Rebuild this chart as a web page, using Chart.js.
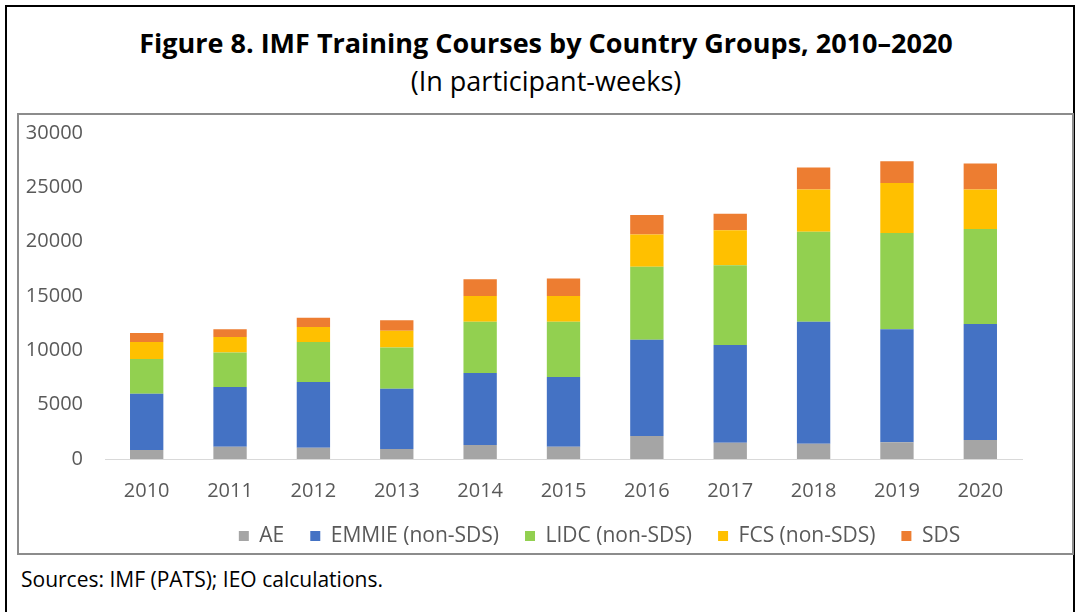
<!DOCTYPE html>
<html>
<head>
<meta charset="utf-8">
<script src="https://cdn.jsdelivr.net/npm/chart.js@4.4.1/dist/chart.umd.min.js"></script>
<style>
  body { margin: 0; background: #fff; font-family: "Open Sans", sans-serif; }
  #page { position: relative; width: 1081px; height: 612px; overflow: hidden; }
  #frame { position: absolute; left: 5px; top: 5px; width: 1070px; height: 640px;
           border: 2px solid #000; box-sizing: border-box; }
  #box { position: absolute; left: 17px; top: 113px; width: 1057px; height: 442px;
         border: 2px solid #8c8c8c; box-sizing: border-box; }
  #title { position: absolute; left: 6px; width: 1080px; top: 26px; text-align: center;
           font-weight: bold; font-size: 27px; color: #000; line-height: 34px; }
  #subtitle { position: absolute; left: 6px; width: 1080px; top: 64.5px; text-align: center;
              font-size: 27px; color: #000; line-height: 32px; }
  #source { position: absolute; left: 21px; top: 565.5px; font-size: 21px; color: #000; line-height: 26px; }
  #chart { position: absolute; left: 19px; top: 115px; }
</style>
</head>
<body>
<div id="page">
  <div id="frame"></div>
  <div id="box"></div>
  <div id="title">Figure 8. IMF Training Courses by Country Groups, 2010–2020</div>
  <div id="subtitle">(In participant-weeks)</div>
  <div id="source">Sources: IMF (PATS); IEO calculations.</div>
  <canvas id="chart" width="1052" height="445"></canvas>
</div>
<script>
// Datos (participant-weeks)
const years = ["2010", "2011", "2012", "2013", "2014", "2015", "2016", "2017", "2018", "2019", "2020"];
const ae    = [830, 1130, 1040, 920, 1290, 1130, 2120, 1500, 1410, 1530, 1750];
const emmie = [5180, 5490, 6040, 5550, 6620, 6410, 8860, 8990, 11220, 10400, 10670];
const lidc  = [3190, 3190, 3680, 3800, 4720, 5090, 6710, 7330, 8280, 8860, 8740];
const fcs   = [1560, 1410, 1380, 1530, 2370, 2370, 2980, 3220, 3900, 4600, 3650];
const sds   = [830, 710, 860, 960, 1530, 1620, 1780, 1530, 2020, 2020, 2390];
const yTicks = [0, 5000, 10000, 15000, 20000, 25000, 30000];

const textColor = "#595959";
const yFont = { family: "Open Sans", size: 20 };
const xFont = { family: "Open Sans", size: 20, lineHeight: 0.8 };
const legendFont = { family: "Open Sans", size: 21 };

// La leyenda en el original no está centrada: se desplaza a la derecha
const legendShift = {
  id: "legendShift",
  afterLayout(chart) {
    chart.legend.left += 79;
    chart.legend.right += 79;
  },
};

const ctx = document.getElementById("chart").getContext("2d");
new Chart(ctx, {
  type: "bar",
  data: {
    labels: years,
    datasets: [
      { label: "AE", data: ae, backgroundColor: "#A5A5A5" },
      { label: "EMMIE (non-SDS)", data: emmie, backgroundColor: "#4472C4" },
      { label: "LIDC (non-SDS)", data: lidc, backgroundColor: "#92D050" },
      { label: "FCS (non-SDS)", data: fcs, backgroundColor: "#FFC000" },
      { label: "SDS", data: sds, backgroundColor: "#ED7D31" },
    ],
  },
  plugins: [legendShift],
  options: {
    responsive: false,
    animation: false,
    categoryPercentage: 0.8,
    barPercentage: 0.5,
    layout: { padding: { left: 0, right: 49, top: 18, bottom: 3.5 } },
    plugins: {
      legend: {
        position: "bottom",
        labels: { boxWidth: 10, boxHeight: 10, padding: 26, color: textColor, font: legendFont },
      },
      tooltip: { enabled: false },
    },
    scales: {
      x: {
        stacked: true,
        grid: { display: false, drawTicks: false },
        border: { display: true, color: "#D9D9D9", width: 1 },
        ticks: { color: textColor, font: xFont, padding: 24, maxRotation: 0 },
        afterFit: (scale) => { scale.height = 40.5; },
      },
      y: {
        stacked: true,
        min: 0,
        max: 30000,
        grid: { display: false, drawTicks: true, tickLength: 22 },
        border: { display: false },
        afterBuildTicks: (scale) => { scale.ticks = yTicks.map((v) => ({ value: v })); },
        ticks: { color: textColor, font: yFont, padding: 0, callback: (v) => String(v) },
        afterFit: (scale) => { scale.width = 86; },
      },
    },
  },
});
</script>
</body>
</html>
